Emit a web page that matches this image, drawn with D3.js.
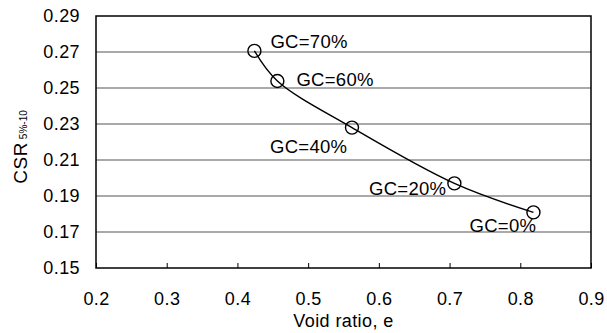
<!DOCTYPE html>
<html>
<head>
<meta charset="utf-8">
<script src="https://cdn.jsdelivr.net/npm/d3@7"></script>
<style>
  html, body { margin: 0; padding: 0; background: #fff; }
  svg { display: block; font-family: "Liberation Sans", Arial, Helvetica, sans-serif; }
</style>
</head>
<body>
<svg id="chart" width="607" height="333"></svg>
<script>
// ---- data ----
const labels = ["GC=70%", "GC=60%", "GC=40%", "GC=20%", "GC=0%"];
const voidRatio = [0.424, 0.4565, 0.562, 0.7068, 0.8186];
const csr = [0.2706, 0.2539, 0.228, 0.197, 0.1809];
const xTicks = [0.2, 0.3, 0.4, 0.5, 0.6, 0.7, 0.8, 0.9];
const yTicks = [0.15, 0.17, 0.19, 0.21, 0.23, 0.25, 0.27, 0.29];

// ---- layout ----
const W = 607, H = 333;
const m = { left: 96, top: 16, right: 16, bottom: 65 };
const svg = d3.select("#chart");
const FS = 18;

const x = d3.scaleLinear().domain([0.2, 0.9]).range([m.left, W - m.right]);
const y = d3.scaleLinear().domain([0.15, 0.29]).range([H - m.bottom, m.top]);

// gridlines
svg.append("g")
  .selectAll("line")
  .data(yTicks.slice(1, -1))
  .join("line")
  .attr("x1", m.left).attr("x2", W - m.right)
  .attr("y1", d => y(d)).attr("y2", d => y(d))
  .attr("stroke", "#555").attr("stroke-width", 1);

// y axis
const yAxis = svg.append("g")
  .attr("transform", `translate(${m.left},0)`)
  .call(d3.axisLeft(y).tickValues(yTicks).tickSize(0).tickPadding(16).tickFormat(d3.format(".2f")));
yAxis.select(".domain").remove();
yAxis.selectAll("text").attr("font-size", FS).attr("fill", "#000").attr("letter-spacing", 0.4)
  .attr("font-family", "Liberation Sans, Arial, sans-serif");

// x axis
const xAxis = svg.append("g")
  .attr("transform", `translate(0,${H - m.bottom})`)
  .call(d3.axisBottom(x).tickValues(xTicks).tickSizeInner(-5).tickSizeOuter(0).tickPadding(24).tickFormat(d3.format(".1f")));
xAxis.select(".domain").remove();
xAxis.selectAll("line").attr("stroke", "#000");
xAxis.selectAll("text").attr("font-size", FS).attr("fill", "#000").attr("letter-spacing", 0.4)
  .attr("font-family", "Liberation Sans, Arial, sans-serif");
xAxis.selectAll("text").attr("y", 24);

// frame
svg.append("rect")
  .attr("x", m.left).attr("y", m.top)
  .attr("width", W - m.left - m.right).attr("height", H - m.top - m.bottom)
  .attr("fill", "none").attr("stroke", "#000").attr("stroke-width", 1.5);

// line
const pts = voidRatio.map((v, i) => [v, csr[i]]);
svg.append("path")
  .datum(pts)
  .attr("d", d3.line().x(d => x(d[0])).y(d => y(d[1])).curve(d3.curveCatmullRom.alpha(0.5)))
  .attr("fill", "none").attr("stroke", "#000").attr("stroke-width", 1.4);

// markers
svg.append("g")
  .selectAll("circle")
  .data(pts)
  .join("circle")
  .attr("cx", d => x(d[0])).attr("cy", d => y(d[1]))
  .attr("r", 6.5)
  .attr("fill", "none").attr("stroke", "#000").attr("stroke-width", 1.4);

// point labels (offsets from point, in px)
const labelOffsets = [[16, -3, "start"], [19, 5, "start"], [-82, 25, "start"], [-8, 12, "end"], [-64, 20, "start"]];
svg.append("g")
  .selectAll("text")
  .data(labels)
  .join("text")
  .attr("x", (d, i) => x(voidRatio[i]) + labelOffsets[i][0])
  .attr("y", (d, i) => y(csr[i]) + labelOffsets[i][1])
  .attr("text-anchor", (d, i) => labelOffsets[i][2])
  .attr("font-size", 18.5)
  .attr("letter-spacing", 0.3)
  .attr("fill", "#000")
  .text(d => d);

// x title
svg.append("text")
  .attr("x", (m.left + W - m.right) / 2)
  .attr("y", 327)
  .attr("text-anchor", "middle")
  .attr("font-size", FS)
  .attr("letter-spacing", 0.4)
  .text("Void ratio, e");

// y title
const yt = svg.append("text")
  .attr("transform", "translate(27,147) rotate(-90)")
  .attr("text-anchor", "middle");
yt.append("tspan").attr("font-size", 19).attr("letter-spacing", 0.5).text("CSR");
yt.append("tspan").attr("font-size", 10).attr("dx", 3).text("5%-10");
</script>
</body>
</html>
